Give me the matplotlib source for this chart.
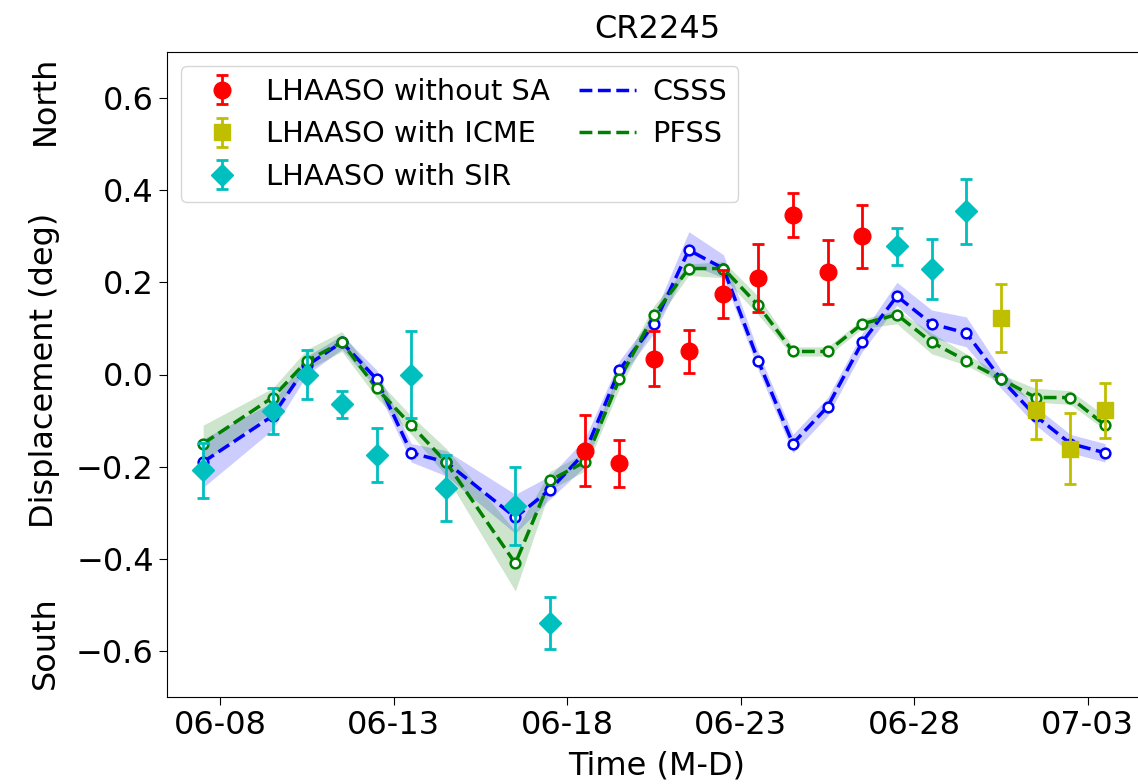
import matplotlib
matplotlib.use('Agg')
import matplotlib.pyplot as plt
import matplotlib.dates as mdates
import pandas as pd

plt.rcParams['font.family'] = 'DejaVu Sans'

# model days (12:00 UT each)
model_days = ['06-07', '06-09', '06-10', '06-11', '06-12', '06-13', '06-14',
              '06-16', '06-17', '06-18', '06-19', '06-20', '06-21', '06-22',
              '06-23', '06-24', '06-25', '06-26', '06-27', '06-28', '06-29',
              '06-30', '07-01', '07-02', '07-03']
csss = [-0.19, -0.09, 0.02, 0.07, -0.01, -0.17, -0.19, -0.31, -0.25, -0.17,
        0.01, 0.11, 0.27, 0.23, 0.03, -0.15, -0.07, 0.07, 0.17, 0.11,
        0.09, -0.01, -0.09, -0.15, -0.17]
csss_lo = [-0.245, -0.12, 0.00, 0.055, -0.03, -0.19, -0.22, -0.345, -0.27, -0.20,
           -0.01, 0.09, 0.24, 0.21, 0.01, -0.17, -0.09, 0.05, 0.15, 0.08,
           0.06, -0.03, -0.11, -0.17, -0.19]
csss_hi = [-0.14, -0.06, 0.04, 0.085, 0.01, -0.15, -0.165, -0.26, -0.22, -0.14,
           0.03, 0.13, 0.31, 0.26, 0.05, -0.13, -0.05, 0.09, 0.20, 0.14,
           0.125, 0.01, -0.07, -0.13, -0.15]
pfss = [-0.15, -0.05, 0.03, 0.07, -0.03, -0.11, -0.19, -0.41, -0.23, -0.19,
        -0.01, 0.13, 0.23, 0.23, 0.15, 0.05, 0.05, 0.11, 0.13, 0.07,
        0.03, -0.01, -0.05, -0.05, -0.11]
pfss_lo = [-0.19, -0.08, 0.01, 0.05, -0.05, -0.13, -0.22, -0.47, -0.25, -0.21,
           -0.03, 0.11, 0.215, 0.21, 0.13, 0.04, 0.04, 0.10, 0.11, 0.045,
           0.02, -0.02, -0.06, -0.065, -0.12]
pfss_hi = [-0.11, -0.03, 0.055, 0.093, -0.01, -0.09, -0.16, -0.34, -0.21, -0.17,
           0.01, 0.15, 0.24, 0.245, 0.17, 0.06, 0.06, 0.12, 0.14, 0.09,
           0.045, 0.00, -0.03, -0.035, -0.09]

# LHAASO measurements
sa_days = ['06-18', '06-19', '06-20', '06-21', '06-22', '06-23', '06-24', '06-25', '06-26']
sa_val = [-0.165, -0.193, 0.034, 0.05, 0.174, 0.21, 0.347, 0.222, 0.30]
sa_err = [0.078, 0.051, 0.06, 0.047, 0.052, 0.074, 0.048, 0.07, 0.068]

icme_days = ['06-30', '07-01', '07-02', '07-03']
icme_val = [0.123, -0.077, -0.161, -0.078]
icme_err = [0.074, 0.064, 0.077, 0.059]

sir_days = ['06-07', '06-09', '06-10', '06-11', '06-12', '06-13', '06-14',
            '06-16', '06-17', '06-27', '06-28', '06-29']
sir_val = [-0.208, -0.08, 0.0, -0.065, -0.175, 0.0, -0.246, -0.286, -0.54, 0.278, 0.229, 0.354]
sir_err = [0.06, 0.05, 0.053, 0.03, 0.058, 0.095, 0.072, 0.085, 0.056, 0.04, 0.065, 0.07]

tick_days = ['06-08', '06-13', '06-18', '06-23', '06-28', '07-03']


def to_time(days, hour=12):
    return pd.to_datetime(['2021-' + d for d in days]) + pd.Timedelta(hours=hour)


t_mod = to_time(model_days)

fig = plt.figure(figsize=(11.38, 7.84), dpi=100)
ax = fig.add_axes([167 / 1138, 87 / 784, 980 / 1138, 645 / 784])

ax.fill_between(t_mod, csss_lo, csss_hi, color='b', alpha=0.2, lw=0)
ax.fill_between(t_mod, pfss_lo, pfss_hi, color='g', alpha=0.2, lw=0)
l1, = ax.plot(t_mod, csss, 'b--', lw=2.5, label='CSSS')
l2, = ax.plot(t_mod, pfss, 'g--', lw=2.5, label='PFSS')
ax.plot(t_mod, csss, 'o', ls='none', mfc='white', mec='b', ms=7, mew=1.8)
ax.plot(t_mod, pfss, 'o', ls='none', mfc='white', mec='g', ms=7, mew=1.8)

e1 = ax.errorbar(to_time(sa_days), sa_val, yerr=sa_err, fmt='o', color='r',
                 ms=12, capsize=4.5, elinewidth=2, capthick=2, label='LHAASO without SA')
e2 = ax.errorbar(to_time(icme_days), icme_val, yerr=icme_err, fmt='s', color='y',
                 ms=12, capsize=4.5, elinewidth=2, capthick=2, label='LHAASO with ICME')
e3 = ax.errorbar(to_time(sir_days), sir_val, yerr=sir_err, fmt='D', color='c',
                 ms=11.5, capsize=4.5, elinewidth=2, capthick=2, label='LHAASO with SIR')

ax.set_ylim(-0.7, 0.7)
ax.set_xlim(pd.Timestamp('2021-06-06 11:00'), pd.Timestamp('2021-07-04 17:00'))
ax.set_xticks(to_time(tick_days, hour=0))
ax.xaxis.set_major_formatter(mdates.DateFormatter('%m-%d'))
ax.set_yticks([-0.6, -0.4, -0.2, 0.0, 0.2, 0.4, 0.6])
ax.tick_params(labelsize=23, length=6)
ax.set_title('CR2245', fontsize=23, pad=10)
ax.set_xlabel('Time (M-D)', fontsize=23, labelpad=7)

fig.text(45 / 1138, 1 - 370 / 784, 'Displacement (deg)', rotation=90, fontsize=23,
         ha='center', va='center')
fig.text(45 / 1138, 1 - 100 / 784, 'North', rotation=90, fontsize=23, ha='center', va='center')
fig.text(45 / 1138, 1 - 643 / 784, 'South', rotation=90, fontsize=23, ha='center', va='center')

ax.legend(handles=[e1, e2, e3, l1, l2], loc='upper left', ncol=2, fontsize=20.7,
          columnspacing=1.0, handletextpad=0.55)

fig.savefig('out.png', dpi=100)
